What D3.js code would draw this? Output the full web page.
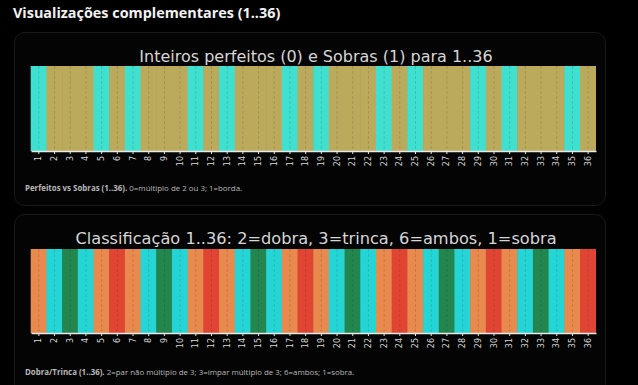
<!DOCTYPE html>
<html lang="pt">
<head>
  <meta charset="UTF-8">
  <title>Visualizações complementares</title>
  <script src="https://d3js.org/d3.v7.min.js"></script>
  <style>
    html, body {
      margin: 0;
      padding: 0;
      background: #000;
    }
    svg {
      display: block;
    }
  </style>
</head>
<body>
  <script>
    // 1..36 labels
    const numeros = ["1","2","3","4","5","6","7","8","9","10","11","12","13","14","15","16","17","18",
                     "19","20","21","22","23","24","25","26","27","28","29","30","31","32","33","34","35","36"];

    // 0 = perfeito (múltiplo de 2 ou 3), 1 = sobra
    const perfeitoSobra = [1,0,0,0,1,0,1,0,0,0,1,0,1,0,0,0,1,0,
                           1,0,0,0,1,0,1,0,0,0,1,0,1,0,0,0,1,0];

    // 2 = dobra, 3 = trinca, 6 = ambos, 1 = sobra
    const classe = [1,2,3,2,1,6,1,2,3,2,1,6,1,2,3,2,1,6,
                    1,2,3,2,1,6,1,2,3,2,1,6,1,2,3,2,1,6];

    const corPerfeito = {0: "#bcaa5c", 1: "#40e0d0"};
    const corClasse = {1: "#e8894e", 2: "#25d5d5", 3: "#23864f", 6: "#e04433"};

    const width = 638, height = 385;

    const svg = d3.select("body").append("svg")
      .attr("width", width).attr("height", height);

    // page heading
    svg.append("text")
      .attr("x", 13).attr("y", 18)
      .attr("fill", "#f2f2f2")
      .style("font", "bold 14.4px 'Open Sans', 'Noto Sans', sans-serif")
      .text("Visualizações complementares (1..36)");

    // cards
    const cards = [
      {y: 32, h: 173},
      {y: 214, h: 180}
    ];
    svg.selectAll("rect.card").data(cards).enter().append("rect")
      .attr("class", "card")
      .attr("x", 14.5).attr("y", d => d.y + 0.5)
      .attr("width", 591).attr("height", d => d.h)
      .attr("rx", 10)
      .attr("fill", "#040404")
      .attr("stroke", "#1a1a1a");

    const x = d3.scaleBand().domain(numeros).range([31, 596]).padding(0);

    function drawChart(opts) {
      const g = svg.append("g");
      const y = d3.scaleLinear().domain([0, 1]).range([opts.bottom, opts.top]);

      g.append("text")
        .attr("x", 316).attr("y", opts.titleY)
        .attr("text-anchor", "middle")
        .attr("fill", "#d6d6d6")
        .style("font", opts.titleSize + "px 'DejaVu Sans', sans-serif")
        .text(opts.title);

      // bars overlap by half a pixel so no seams show between them
      g.selectAll("rect.bar").data(opts.values).enter().append("rect")
        .attr("class", "bar")
        .attr("x", (d, i) => x(numeros[i]) - 0.3)
        .attr("y", y(1))
        .attr("width", (d, i) => x.bandwidth() + (i === numeros.length - 1 ? 0.3 : 0.6))
        .attr("height", y(0) - y(1))
        .attr("fill", d => opts.colors[d]);

      // dashed grid on each tick
      g.selectAll("line.grid").data(numeros).enter().append("line")
        .attr("class", "grid")
        .attr("x1", d => x(d) + x.bandwidth() / 2)
        .attr("x2", d => x(d) + x.bandwidth() / 2)
        .attr("y1", y(1)).attr("y2", y(0))
        .attr("stroke", "#000")
        .attr("stroke-opacity", 0.22)
        .attr("stroke-width", 0.6)
        .attr("stroke-dasharray", "3,2");

      const axis = g.append("g")
        .attr("transform", `translate(0,${opts.bottom})`)
        .call(d3.axisBottom(x).tickSize(3).tickSizeOuter(0));
      axis.select(".domain").attr("stroke", "#e8e8e8").attr("stroke-width", 1.5);
      axis.selectAll(".tick line").attr("stroke", "#e8e8e8");
      axis.selectAll(".tick text")
        .attr("fill", "#d8d8d8")
        .style("font", "8px 'DejaVu Sans', sans-serif")
        .attr("transform", "rotate(-90)")
        .attr("text-anchor", "end")
        .attr("x", -5).attr("y", 0)
        .attr("dy", "0.32em");

      const cap = g.append("text")
        .attr("x", 25).attr("y", opts.captionY)
        .attr("fill", "#b8b8b8")
        .style("font", "7.9px 'Open Sans', 'Noto Sans', sans-serif");
      cap.append("tspan").attr("font-weight", "bold").text(opts.captionBold);
      cap.append("tspan").text(opts.captionRest);
    }

    drawChart({
      title: "Inteiros perfeitos (0) e Sobras (1) para 1..36",
      titleY: 62, titleSize: 16,
      top: 66, bottom: 151,
      values: perfeitoSobra, colors: corPerfeito,
      captionY: 191,
      captionBold: "Perfeitos vs Sobras (1..36).",
      captionRest: " 0=múltiplo de 2 ou 3; 1=borda."
    });

    drawChart({
      title: "Classificação 1..36: 2=dobra, 3=trinca, 6=ambos, 1=sobra",
      titleY: 244, titleSize: 16.2,
      top: 249, bottom: 333,
      values: classe, colors: corClasse,
      captionY: 375,
      captionBold: "Dobra/Trinca (1..36).",
      captionRest: " 2=par não múltiplo de 3; 3=ímpar múltiplo de 3; 6=ambos; 1=sobra."
    });
  </script>
</body>
</html>
